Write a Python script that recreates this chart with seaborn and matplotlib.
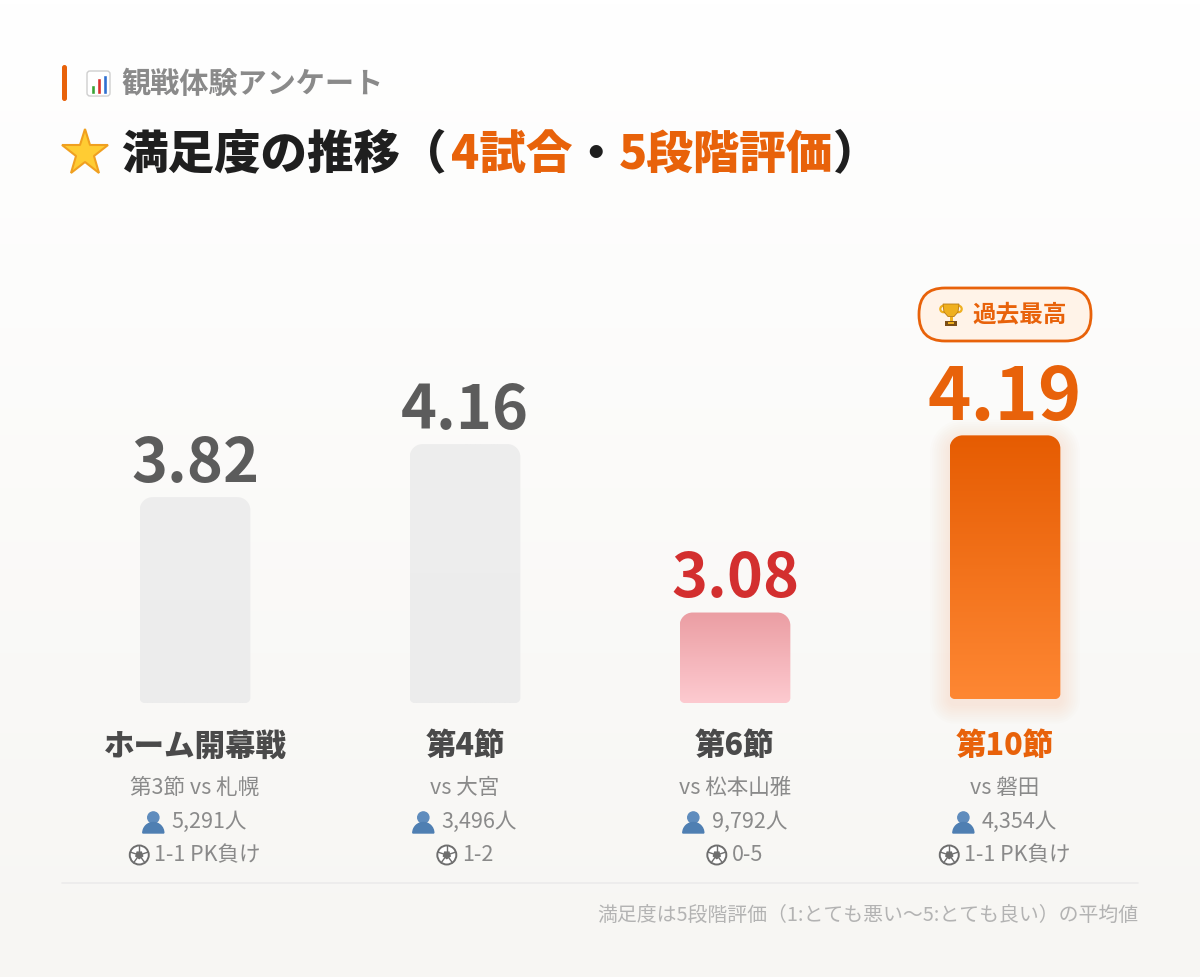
import numpy as np
import pandas as pd
import matplotlib
matplotlib.use('Agg')
import matplotlib.pyplot as plt
import matplotlib.transforms as mtransforms
import seaborn as sns
from matplotlib.path import Path
from matplotlib.patches import PathPatch, Circle, Wedge, Rectangle, FancyBboxPatch, RegularPolygon, Polygon
from matplotlib.colors import LinearSegmentedColormap

# データ
categories = ['ホーム開幕戦', '第4節', '第6節', '第10節']
sub_labels = ['第3節 vs 札幌', 'vs 大宮', 'vs 松本山雅', 'vs 磐田']
attendance = [5291, 3496, 9792, 4354]
results = ['1-1 PK負け', '1-2', '0-5', '1-1 PK負け']
scores = [3.82, 4.16, 3.08, 4.19]

ORANGE = '#e8620a'

# バーごとのスタイル
bar_styles = [
    dict(top='#eeeeee', bottom='#ececec', text='#5c5c5c', size=44, lift=0, glow=False),
    dict(top='#eeeeee', bottom='#ececec', text='#5c5c5c', size=44, lift=0, glow=False),
    dict(top='#eb9ea3', bottom='#fdcad0', text='#d32f2f', size=44, lift=0, glow=False),
    dict(top='#e65c02', bottom='#fe8733', text=ORANGE, size=53, lift=4, glow=True),
]
cat_colors = ['#4a4a4a', '#4a4a4a', '#4a4a4a', ORANGE]

sns.set_style('white')
plt.rcParams['font.family'] = ['Noto Sans CJK JP', 'DejaVu Sans']

W, H = 1200, 977
fig = plt.figure(figsize=(12, 9.77), dpi=100)

# 背景・装飾用の軸（ピクセル座標、y下向き）
deco = fig.add_axes([0, 0, 1, 1], zorder=0)
deco.set_xlim(0, W)
deco.set_ylim(H, 0)
deco.axis('off')
bg_cmap = LinearSegmentedColormap.from_list('bg', ['#ffffff', '#f7f6f3'])
deco.imshow(np.linspace(0, 1, 256).reshape(-1, 1), extent=(0, W, H, 0), aspect='auto', cmap=bg_cmap, zorder=0)

# メインの棒グラフ
ax = fig.add_axes([60 / W, (H - 703) / H, 1080 / W, 390 / H], zorder=1)
ax.set_facecolor('none')
df = pd.DataFrame({'試合': categories, '満足度': scores})
sns.barplot(data=df, x='試合', y='満足度', ax=ax, width=0.41, color='#eeeeee', errorbar=None)
ax.set_xlim(-0.5, 3.5)
ax.set_ylim(2.5, 5.0)
ax.axis('off')

px_x = 1080 / 4
px_y = 390 / 2.5


def rounded_path(x0, x1, y0, y1, rt, rb):
    k = 0.5523
    rtx, rty = rt / px_x, rt / px_y
    rbx, rby = rb / px_x, rb / px_y
    verts = [
        (x0 + rbx, y0), (x1 - rbx, y0),
        (x1 - rbx + k * rbx, y0), (x1, y0 + rby - k * rby), (x1, y0 + rby),
        (x1, y1 - rty),
        (x1, y1 - rty + k * rty), (x1 - rtx + k * rtx, y1), (x1 - rtx, y1),
        (x0 + rtx, y1),
        (x0 + rtx - k * rtx, y1), (x0, y1 - rty + k * rty), (x0, y1 - rty),
        (x0, y0 + rby),
        (x0, y0 + rby - k * rby), (x0 + rbx - k * rbx, y0), (x0 + rbx, y0),
        (x0 + rbx, y0),
    ]
    codes = [Path.MOVETO, Path.LINETO,
             Path.CURVE4, Path.CURVE4, Path.CURVE4,
             Path.LINETO,
             Path.CURVE4, Path.CURVE4, Path.CURVE4,
             Path.LINETO,
             Path.CURVE4, Path.CURVE4, Path.CURVE4,
             Path.LINETO,
             Path.CURVE4, Path.CURVE4, Path.CURVE4,
             Path.CLOSEPOLY]
    return Path(verts, codes)


ybase = ax.get_ylim()[0]
bar_tops = []
for i, (bar, st) in enumerate(zip(list(ax.patches), bar_styles)):
    x0 = bar.get_x()
    x1 = x0 + bar.get_width()
    y1 = bar.get_y() + bar.get_height()
    y0 = ybase
    lift = st['lift'] / px_y
    y0 += lift
    y1 += lift
    bar.set_visible(False)
    if st['glow']:
        for j in range(9):
            r = 2 + 2.2 * j
            gp = rounded_path(x0 - r / px_x, x1 + r / px_x,
                              y0 - (5 + r) / px_y, y1 - 4 / px_y + r / px_y, 13 + r, 5 + r)
            ax.add_patch(PathPatch(gp, fc='#f7a060', ec='none', alpha=0.016, zorder=1, clip_on=False))
    patch = PathPatch(rounded_path(x0, x1, y0, y1, 13, 5), fc='none', ec='none', zorder=2, clip_on=False)
    ax.add_patch(patch)
    cmap = LinearSegmentedColormap.from_list('b%d' % i, [st['top'], st['bottom']])
    im = ax.imshow(np.linspace(0, 1, 128).reshape(-1, 1), extent=(x0, x1, y0, y1), origin='upper',
                   aspect='auto', cmap=cmap, zorder=2)
    im.set_clip_path(patch)
    im.set_clip_on(True)
    bar_tops.append(y1)

ax.set_xlim(-0.5, 3.5)
ax.set_ylim(2.5, 5.0)

# 数値ラベル
for i, (v, top, st) in enumerate(zip(scores, bar_tops, bar_styles)):
    ax.annotate(f'{v:.2f}', xy=(i, top), xytext=(0, 11), textcoords='offset points',
                ha='center', va='baseline', fontsize=st['size'], fontweight='bold',
                color=st['text'], annotation_clip=False)

renderer = fig.canvas.get_renderer()
trans = mtransforms.blended_transform_factory(ax.transData, deco.transData)


def person_icon(cx, cy):
    deco.add_patch(Circle((cx, cy - 4.5), 5.6, color='#5f8cbd', zorder=3))
    deco.add_patch(Wedge((cx, cy + 11), 10.5, 180, 360, color='#4f7fb2', zorder=3))


def ball_icon(cx, cy):
    deco.add_patch(Circle((cx, cy), 9.5, fc='white', ec='#6e6e6e', lw=1.4, zorder=3))
    deco.add_patch(RegularPolygon((cx, cy), 5, radius=3.6, color='#6e6e6e', zorder=4))
    for a in np.deg2rad(np.arange(5) * 72 - 90):
        deco.plot([cx + 3.6 * np.cos(a), cx + 9.5 * np.cos(a)],
                  [cy + 3.6 * np.sin(a), cy + 9.5 * np.sin(a)], color='#6e6e6e', lw=1.0, zorder=4)


def trophy_icon(cx, cy):
    gold = '#efb020'
    dark = '#b97a12'
    deco.add_patch(Circle((cx - 7.5, cy - 6), 3.2, fill=False, ec=gold, lw=1.6, zorder=3))
    deco.add_patch(Circle((cx + 7.5, cy - 6), 3.2, fill=False, ec=gold, lw=1.6, zorder=3))
    deco.add_patch(Polygon([(cx - 8, cy - 11), (cx + 8, cy - 11), (cx + 7, cy - 3), (cx + 3, cy + 1.5),
                            (cx - 3, cy + 1.5), (cx - 7, cy - 3)], closed=True, fc=gold, ec=dark, lw=0.6, zorder=4))
    deco.add_patch(Rectangle((cx - 1.5, cy + 1.5), 3, 4, fc=gold, ec='none', zorder=4))
    deco.add_patch(Rectangle((cx - 6, cy + 5.5), 12, 5, fc='#7a4e17', ec='none', zorder=4))
    deco.add_patch(Rectangle((cx - 3, cy + 7), 6, 2, fc=gold, ec='none', zorder=5))


def icon_line(i, y, text, icon_fn, icon_w, gap):
    cx = ax.transData.transform((i, 0))[0]
    t = deco.text(0, y, text, ha='left', va='center', fontsize=15.5, color='#8a8a8a', zorder=3)
    w = t.get_window_extent(renderer).width
    left = cx - (icon_w + gap + w) / 2
    t.set_x(left + icon_w + gap)
    icon_fn(left + icon_w / 2, y)


# カテゴリと試合情報
for i in range(len(categories)):
    ax.text(i, 746, categories[i], transform=trans, ha='center', va='center', fontsize=22,
            fontweight='heavy', color=cat_colors[i], clip_on=False)
    ax.text(i, 788, sub_labels[i], transform=trans, ha='center', va='center', fontsize=15.5,
            color='#8a8a8a', clip_on=False)
    icon_line(i, 822, f'{attendance[i]:,}人', person_icon, 21, 8)
    icon_line(i, 855, results[i], ball_icon, 20, 5)

# 過去最高バッジ
imax = int(np.argmax(scores))
bx = ax.transData.transform((imax, 0))[0]
deco.add_patch(FancyBboxPatch((bx - 86, 288), 172, 53, boxstyle='round,pad=0,rounding_size=26',
                              fc='#fff3e8', ec=ORANGE, lw=2, zorder=3))
trophy_icon(bx - 54, 315)
deco.text(bx + 15, 315, '過去最高', ha='center', va='center', fontsize=17, fontweight='bold',
          color=ORANGE, zorder=4)

# ヘッダー
deco.add_patch(FancyBboxPatch((62, 65), 5, 36, boxstyle='round,pad=0,rounding_size=2.5', fc=ORANGE, ec='none'))
deco.add_patch(FancyBboxPatch((87, 71), 23, 25, boxstyle='round,pad=0,rounding_size=3',
                              fc='white', ec='#cfcfcf', lw=1, zorder=3))
deco.add_patch(Rectangle((90.5, 85), 4, 9, fc='#3aa335', zorder=4))
deco.add_patch(Rectangle((96.5, 78), 4, 16, fc='#d9302c', zorder=4))
deco.add_patch(Rectangle((102.5, 75), 4, 19, fc='#2f6fd0', zorder=4))
deco.text(121, 84, '観戦体験アンケート', ha='left', va='center', fontsize=21, fontweight='bold', color='#8a8a8a')

deco.plot(85, 153, marker='*', ms=35, mfc='#ffcc33', mec='#f0a020', mew=1.5, zorder=3)
runs = [('満足度の推移（', '#1f1f1f'), ('4試合', ORANGE), ('・', '#1f1f1f'),
        ('5段階評価', ORANGE), ('）', '#1f1f1f')]
title_size = 33.5
bar_probe = deco.text(0, 0, '|', fontsize=title_size, fontweight='heavy')
bar_w = bar_probe.get_window_extent(renderer).width
bar_probe.remove()
x = 121
prefix = ''
for txt, col in runs:
    if prefix:
        probe = deco.text(0, 0, prefix + '|', fontsize=title_size, fontweight='heavy')
        x = 121 + probe.get_window_extent(renderer).width - bar_w + 4
        probe.remove()
    deco.text(x, 155, txt, ha='left', va='center', fontsize=title_size, fontweight='heavy', color=col)
    prefix += txt

# フッター
deco.plot([62, 1138], [883, 883], color='#ebebeb', lw=1.2, zorder=2)
deco.text(1138, 915, '満足度は5段階評価（1:とても悪い〜5:とても良い）の平均値', ha='right', va='center',
          fontsize=14.3, color='#b3b3b3')

fig.savefig('out.png', dpi=100)
